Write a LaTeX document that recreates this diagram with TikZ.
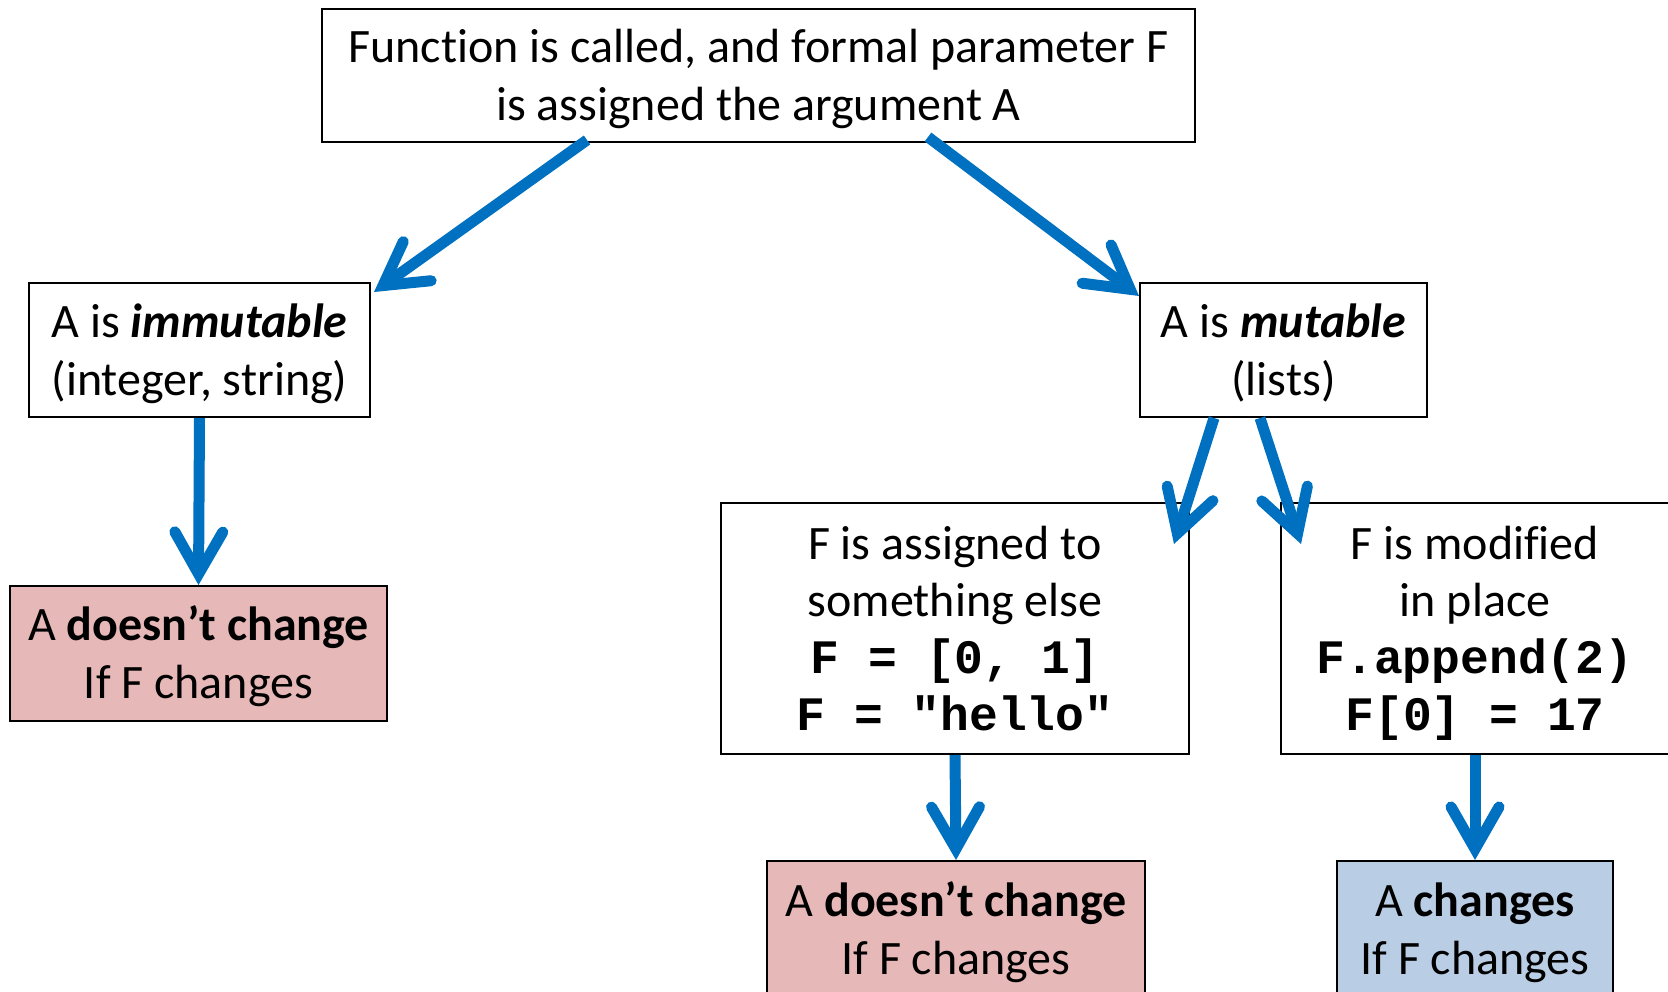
\documentclass[tikz,border=0pt]{standalone}
\usepackage{fontspec}
\setmainfont[Ligatures=NoCommon]{Carlito}
\setmonofont{Liberation Mono}
\usetikzlibrary{arrows.meta,calc}
\definecolor{arrblue}{RGB}{0,112,192}
\definecolor{pinkfill}{RGB}{230,184,183}
\definecolor{bluefill}{RGB}{185,205,229}
\tikzset{
  box/.style={draw=black, line width=1pt, inner sep=0pt,
    font=\fontsize{24}{29}\selectfont},
  arr/.style={draw=arrblue, line width=5.5pt,
    -{Straight Barb[length=21pt,width=24pt,line cap=round,line join=miter]}},
}
\newcommand{\cd}[1]{{\ttfamily\bfseries #1}}
\newcommand{\bx}[1]{\begin{tabular}{@{}c@{}}\rule{0pt}{25.1pt}#1\end{tabular}}
\begin{document}
\begin{tikzpicture}[x=0.5pt,y=-0.5pt]
\useasboundingbox (0,0) rectangle (1668,991);
\node[box, minimum width=436.5pt, minimum height=66.5pt] (top) at (758.5,75.5)
  {\bx{Function is called, and formal parameter F\\is assigned the argument A}};
\node[box, minimum width=170.5pt, minimum height=67pt] (imm) at (199.5,350)
  {\bx{A is \textbf{\textit{immutable}}\\(integer, string)}};
\node[box, minimum width=143.5pt, minimum height=67pt] (mut) at (1283.5,350)
  {\bx{A is \textbf{\textit{mutable}}\\(lists)}};
\node[box, fill=pinkfill, minimum width=188.5pt, minimum height=67.5pt] (dcL) at (198.5,653.5)
  {\bx{A \textbf{doesn’t change}\\If F changes}};
\node[box, minimum width=234pt, minimum height=125.5pt, font=\fontsize{24}{28.6}\selectfont] (asg) at (955,628.5)
  {\bx{F is assigned to\\something else\\\cd{F = [0, 1]}\\\cd{F = "hello"}}};
\node[box, minimum width=194pt, minimum height=125.5pt, font=\fontsize{24}{28.6}\selectfont] (mod) at (1475,628.5)
  {\bx{F is modified\\in place\\\cd{F.append(2)}\\\cd{F[0] = 17}}};
\node[box, fill=pinkfill, minimum width=189pt, minimum height=68pt] (dcM) at (956,929)
  {\bx{A \textbf{doesn’t change}\\If F changes}};
\node[box, fill=bluefill, minimum width=138pt, minimum height=68pt] (chg) at (1475,929)
  {\bx{A \textbf{changes}\\If F changes}};

\draw[arr] ($(top.south west)+(266,-3)$) -- ($(imm.north east)+(3,10)$);
\draw[arr] ($(top.south west)+(607,-6)$) -- ($(mut.north west)+(0,14)$);
\draw[arr] (imm.south) -- (dcL.north);
\draw[arr] ($(mut.south west)+(75,0)$) -- ($(asg.north east)+(-16,42)$);
\draw[arr] ($(mut.south west)+(121,0)$) -- ($(mod.north west)+(21,42)$);
\draw[arr] (asg.south) -- (dcM.north);
\draw[arr] (mod.south) -- (chg.north);
\end{tikzpicture}
\end{document}
